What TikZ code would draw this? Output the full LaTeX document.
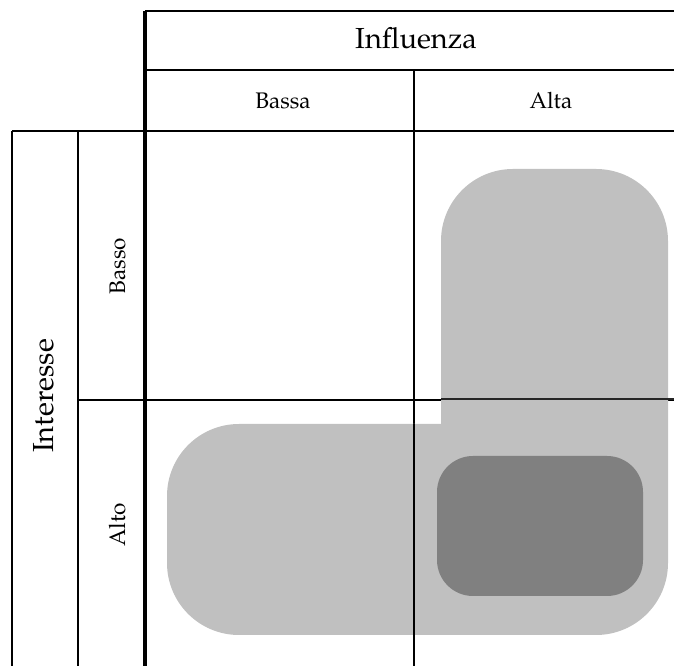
\documentclass[tikz,border=0pt]{standalone}
\usepackage{fontspec}
\setmainfont{TeX Gyre Pagella}
\begin{document}
\begin{tikzpicture}[x=1pt,y=1pt,
  gridline/.style={line width=2.2pt, black},
  mainline/.style={line width=3.3pt, black},
  overline/.style={line width=2pt, black!85},
  areafill/.style={fill={rgb,255:red,192;green,192;blue,192}},
  corefill/.style={fill={rgb,255:red,128;green,128;blue,128}},
  bigtext/.style={font=\fontsize{29}{34}\selectfont, inner sep=0pt},
  smalltext/.style={font=\fontsize{22.5}{27}\selectfont, inner sep=0pt}]
\useasboundingbox (0,0) rectangle (674,666);

% header rows
\draw[gridline] (145,655) -- (674,655);
\draw[gridline] (145,596) -- (674,596);
\draw[gridline] (12,535) -- (674,535);
\draw[gridline] (414,596) -- (414,0);
% row header columns
\draw[gridline] (12,535) -- (12,0);
\draw[gridline] (78,535) -- (78,0);
\draw[gridline] (78,266) -- (674,266);
\draw[mainline] (145,655) -- (145,0);

% highlighted L-shaped area
\path[areafill] (441,242) -- (441,425)
  arc[start angle=180, end angle=90, radius=72] -- (596,497)
  arc[start angle=90, end angle=0, radius=72] -- (668,103)
  arc[start angle=0, end angle=-90, radius=72] -- (239,31)
  arc[start angle=270, end angle=180, radius=72] -- (167,170)
  arc[start angle=180, end angle=90, radius=72] -- cycle;
% inner core area
\path[corefill, rounded corners=36] (437,70) rectangle (643,210);

% grid lines shown over the area
\draw[overline] (441,267) -- (674,267);
\draw[overline, black] (414,242) -- (414,31);

% labels
\node[bigtext, anchor=base] (infl) at (416,617) {Influenza};
\node[smalltext, anchor=base] (bassa) at (283,557) {Bassa};
\node[smalltext, anchor=base] (alta) at (551,557) {Alta};
\node[bigtext, anchor=base, rotate=90] (inter) at (53,270) {Interesse};
\node[smalltext, anchor=base, rotate=90] (basso) at (125,400) {Basso};
\node[smalltext, anchor=base, rotate=90] (alto) at (125,141) {Alto};
\end{tikzpicture}
\end{document}
